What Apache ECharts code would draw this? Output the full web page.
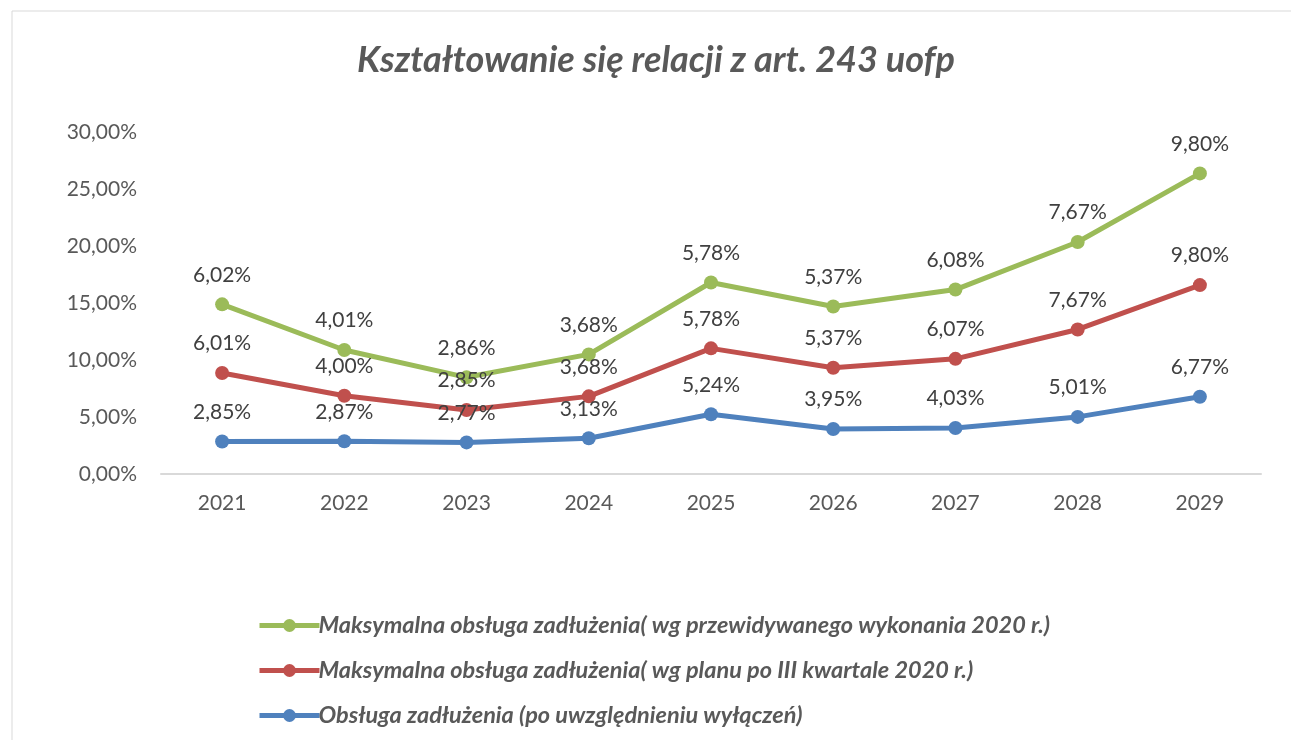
<!DOCTYPE html>
<html>
<head>
<meta charset="utf-8">
<script src="https://cdn.jsdelivr.net/npm/echarts@6/dist/echarts.min.js"></script>
<style>
  html, body { margin: 0; padding: 0; background: #fff; }
  #chart { width: 1291px; height: 740px; }
</style>
</head>
<body>
<div id="chart"></div>
<script>
const years = ["2021", "2022", "2023", "2024", "2025", "2026", "2027", "2028", "2029"];
const seriesNames = [
  "Maksymalna obsługa zadłużenia( wg przewidywanego wykonania 2020 r.)",
  "Maksymalna obsługa zadłużenia( wg planu po III kwartale 2020 r.)",
  "Obsługa zadłużenia (po uwzględnieniu wyłączeń)"
];
// values in percent, stacked like the original
const debtService = [2.85, 2.87, 2.77, 3.13, 5.24, 3.95, 4.03, 5.01, 6.77];
const maxByPlan = [6.01, 4.00, 2.85, 3.68, 5.78, 5.37, 6.07, 7.67, 9.80];
const maxByForecast = [6.02, 4.01, 2.86, 3.68, 5.78, 5.37, 6.08, 7.67, 9.80];

const fontFamily = "Lato, 'Open Sans', sans-serif";
const pct = v => v.toFixed(2).replace(".", ",") + "%";

function lineSeries(name, data, color) {
  return {
    name: name,
    type: "line",
    stack: "total",
    data: data,
    symbol: "circle",
    symbolSize: 14,
    lineStyle: { width: 5, color: color },
    itemStyle: { color: color },
    label: {
      show: true,
      position: "top",
      distance: 12,
      color: "#404040",
      fontSize: 21,
      fontFamily: fontFamily,
      formatter: p => pct(p.value)
    }
  };
}

const chart = echarts.init(document.getElementById("chart"));
chart.setOption({
  animation: false,
  textStyle: { fontFamily: fontFamily },
  graphic: [{
    type: "rect",
    shape: { x: 12, y: 11, width: 1300, height: 760 },
    style: { fill: "none", stroke: "#d9d9d9", lineWidth: 1 },
    silent: true
  }],
  title: {
    text: "Kształtowanie się relacji z art. 243 uofp",
    left: 352,
    top: 37,
    textStyle: {
      fontSize: 36,
      fontWeight: "bold",
      fontStyle: "italic",
      color: "#595959",
      fontFamily: fontFamily
    }
  },
  legend: {
    orient: "vertical",
    left: 252,
    top: 609,
    itemWidth: 60,
    itemHeight: 16,
    itemGap: 22,
    data: seriesNames,
    lineStyle: { width: 5 },
    textStyle: {
      fontSize: 23.5,
      lineHeight: 23,
      fontWeight: "bold",
      fontStyle: "italic",
      color: "#595959",
      fontFamily: fontFamily,
      padding: [0, 0, 0, -6]
    }
  },
  grid: { left: 161, right: 30, top: 132, bottom: 266 },
  xAxis: {
    type: "category",
    data: years,
    boundaryGap: true,
    axisLine: { lineStyle: { color: "#d9d9d9", width: 2 } },
    axisTick: { show: false },
    axisLabel: { color: "#595959", fontSize: 21, margin: 19, fontFamily: fontFamily }
  },
  yAxis: {
    type: "value",
    min: 0,
    max: 30,
    interval: 5,
    splitLine: { show: false },
    axisLine: { show: false },
    axisTick: { show: false },
    axisLabel: {
      color: "#595959",
      fontSize: 21,
      margin: 24,
      fontFamily: fontFamily,
      formatter: v => pct(v)
    }
  },
  series: [
    lineSeries(seriesNames[2], debtService, "#4F81BD"),
    lineSeries(seriesNames[1], maxByPlan, "#C0504D"),
    lineSeries(seriesNames[0], maxByForecast, "#9BBB59")
  ]
});
</script>
</body>
</html>
